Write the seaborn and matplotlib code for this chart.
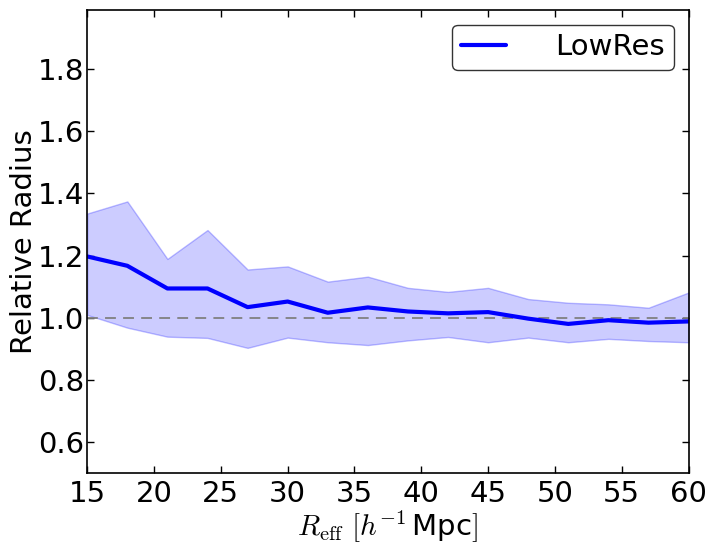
import matplotlib
matplotlib.use('Agg')
import matplotlib.pyplot as plt
import pandas as pd
import seaborn as sns


R_EFF = [15, 18, 21, 24, 27, 30, 33, 36, 39, 42, 45, 48, 51, 54, 57, 60]
MEDIA = [1.197, 1.167, 1.094, 1.094, 1.034, 1.052, 1.016, 1.033, 1.020, 1.014,
         1.018, 0.997, 0.980, 0.992, 0.984, 0.988]
SUPERIOR = [1.335, 1.374, 1.189, 1.282, 1.155, 1.165, 1.116, 1.132, 1.096, 1.083,
            1.096, 1.060, 1.048, 1.043, 1.032, 1.081]
INFERIOR = [1.009, 0.968, 0.939, 0.935, 0.903, 0.936, 0.921, 0.912, 0.927, 0.938,
            0.921, 0.936, 0.921, 0.932, 0.925, 0.921]


def main():
    sns.set_theme(style='ticks')
    plt.rcParams['font.family'] = ['DejaVu Sans']
    plt.rcParams['mathtext.fontset'] = 'cm'
    plt.rcParams['text.color'] = 'black'
    plt.rcParams['axes.labelcolor'] = 'black'

    df = pd.DataFrame({'R_eff': R_EFF, 'media': MEDIA,
                       'sup': SUPERIOR, 'inf': INFERIOR})

    fig = plt.figure(figsize=(7.15, 5.54), dpi=100)
    ax = fig.add_axes([0.122, 0.146, 0.841, 0.836])

    ax.fill_between(df['R_eff'], df['inf'], df['sup'],
                    facecolor=(0, 0, 1, 0.2), edgecolor=(0, 0, 1, 0.25), linewidth=1)
    ax.axhline(1.0, color='gray', linestyle='--', linewidth=1.3, dashes=(6, 4))
    sns.lineplot(data=df, x='R_eff', y='media', color='blue', linewidth=3,
                 label='LowRes', ax=ax)

    ax.set_xlim(15, 60)
    ax.set_ylim(0.5, 1.99)
    ax.set_xticks(range(15, 61, 5))
    ax.set_yticks([0.6, 0.8, 1.0, 1.2, 1.4, 1.6, 1.8])

    for lado in ['top', 'right', 'bottom', 'left']:
        ax.spines[lado].set_visible(True)
        ax.spines[lado].set_color('black')
        ax.spines[lado].set_linewidth(1.2)
    ax.tick_params(direction='in', top=True, right=True, length=5, width=1,
                   labelsize=21, colors='black')
    ax.tick_params(axis='x', pad=5)
    ax.tick_params(axis='y', pad=2)

    ax.set_xlabel(r'$R_{\rm eff}\ [h^{-1}\,$Mpc$]$', fontsize=21, labelpad=0)
    ax.set_ylabel('Relative Radius', fontsize=21, labelpad=0)

    leg = ax.legend(loc='upper right', fontsize=21, frameon=True, fancybox=True,
                    handlelength=1.55, handletextpad=1.7, borderpad=0.3)
    leg.get_frame().set_edgecolor('black')
    leg.get_frame().set_linewidth(1.0)

    fig.savefig('out.png', dpi=100)
    plt.close(fig)


if __name__ == '__main__':
    main()
